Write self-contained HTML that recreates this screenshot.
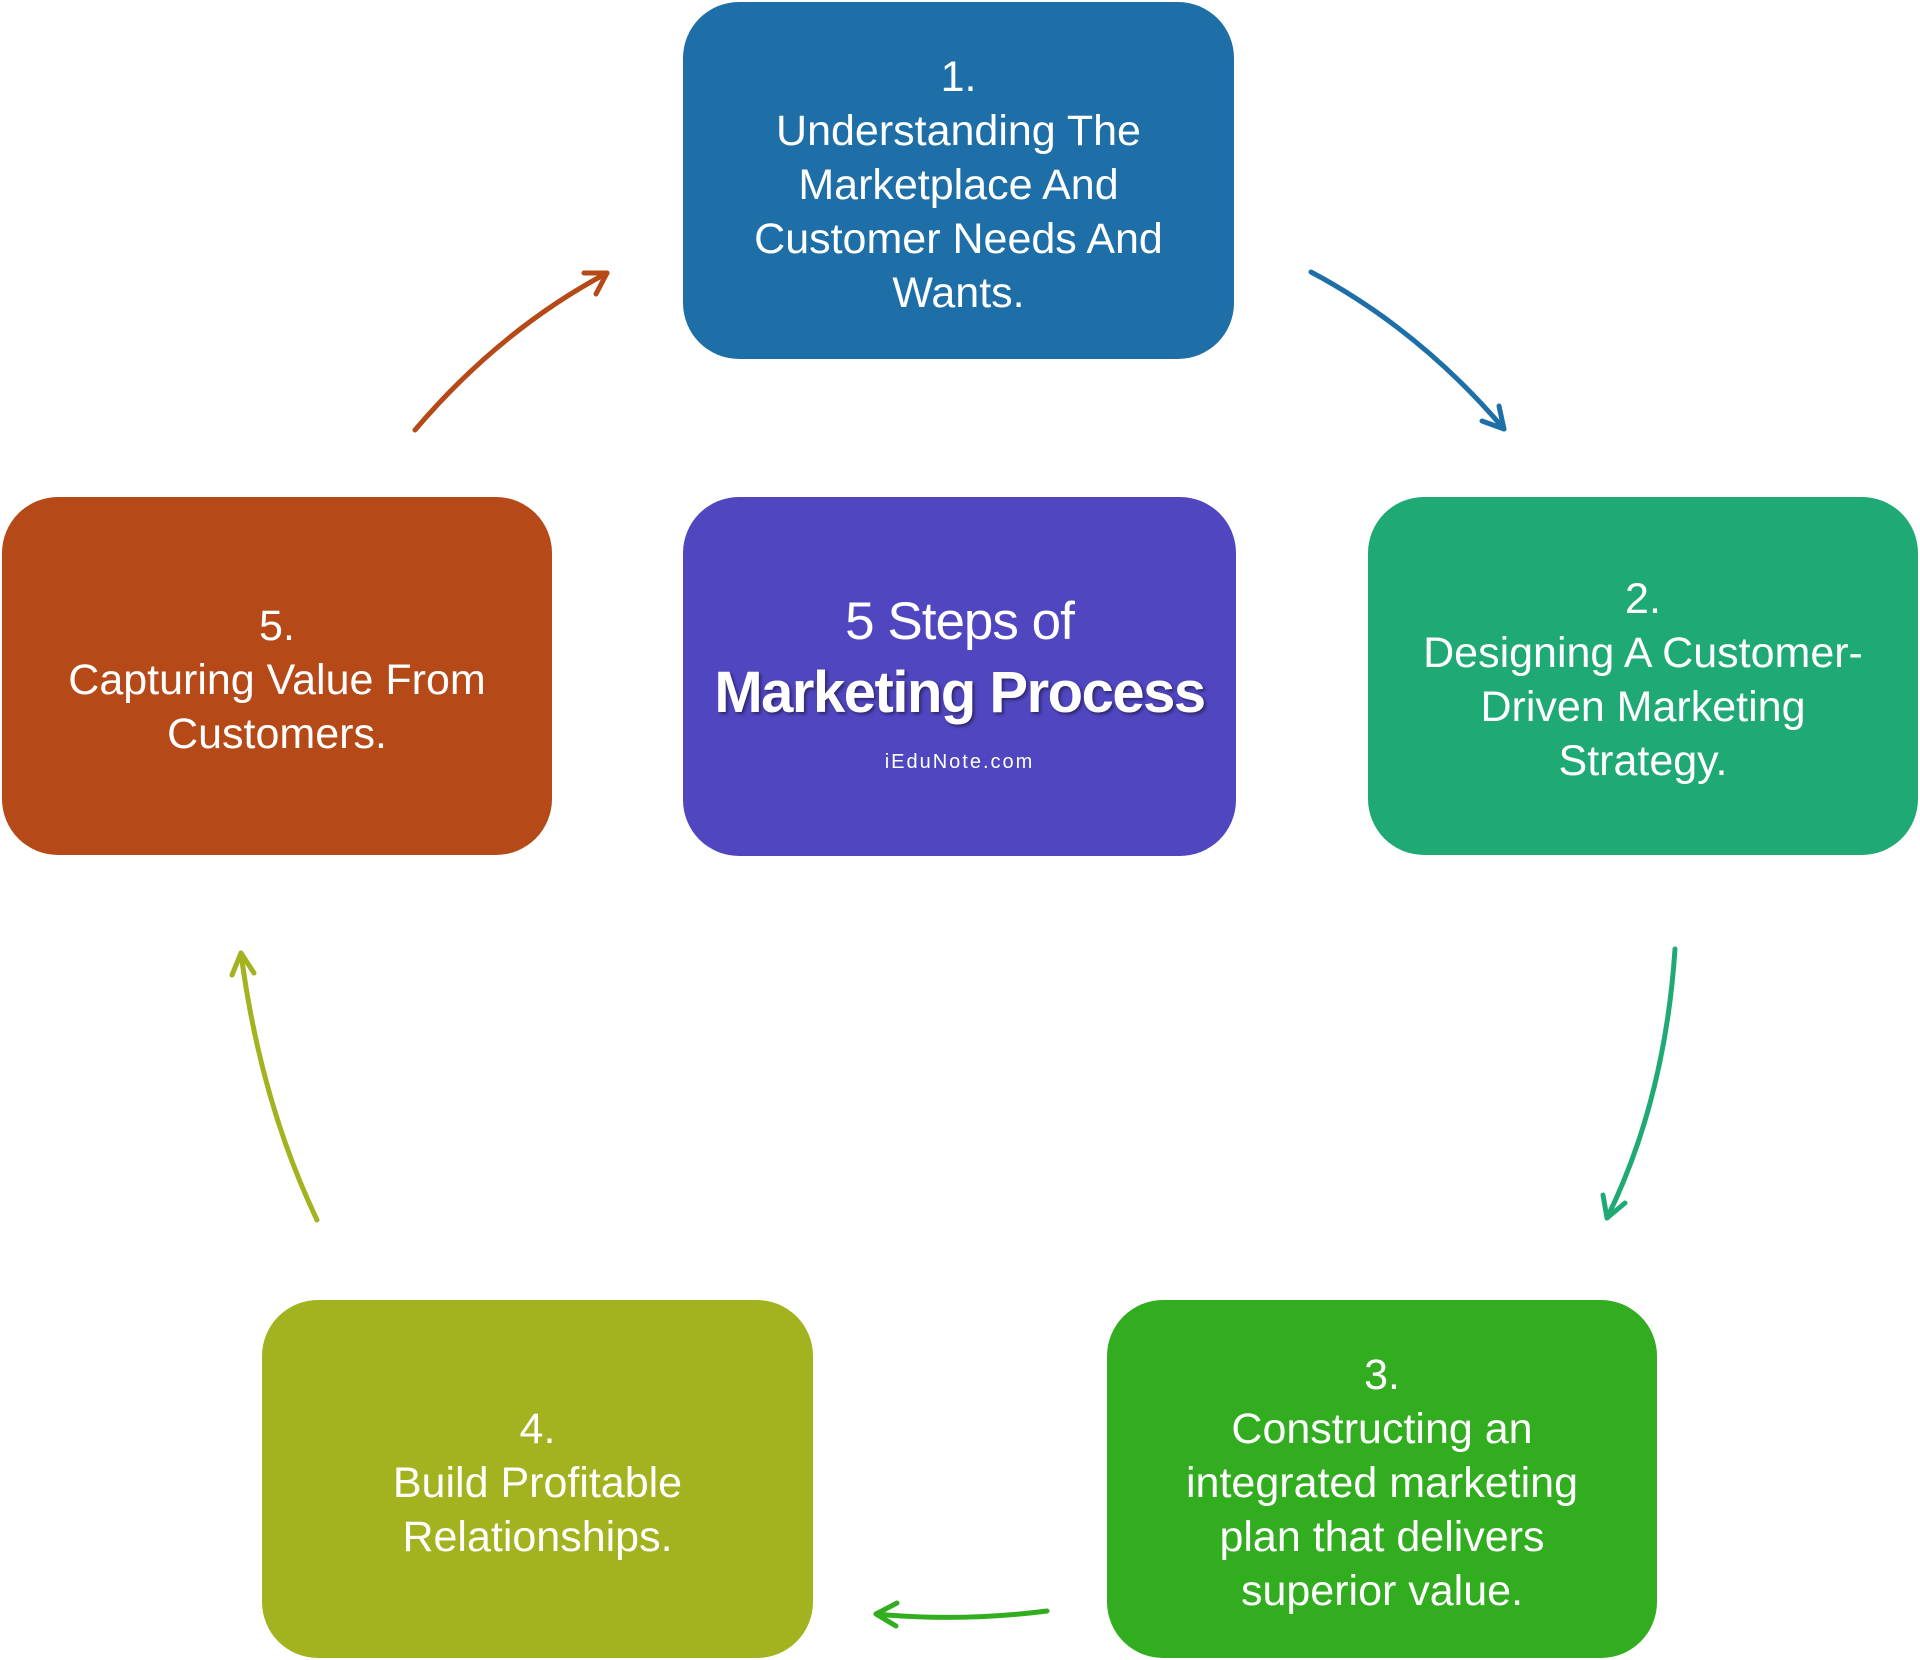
<!DOCTYPE html>
<html><head><meta charset="utf-8"><style>
html,body{margin:0;padding:0;background:#fff;width:1920px;height:1660px;overflow:hidden;position:relative;font-family:"Liberation Sans",sans-serif}
.b{position:absolute;border-radius:56px;color:#fff;display:flex;align-items:center;justify-content:center;text-align:center;font-size:43px;line-height:54px;box-sizing:border-box;padding-top:8px}
svg{position:absolute;left:0;top:0}
</style></head><body>
<div class="b" style="left:683px;top:2px;width:551px;height:357px;background:#1e6fa8">1.<br>Understanding The<br>Marketplace And<br>Customer Needs And<br>Wants.</div>
<div class="b" style="left:2px;top:497px;width:550px;height:358px;background:#b54a18">5.<br>Capturing Value From<br>Customers.</div>
<div class="b" style="left:683px;top:497px;width:553px;height:359px;background:#5046c0;display:block;padding:0">
<div style="position:absolute;left:0;right:0;top:93px;font-size:53px;line-height:64px;letter-spacing:-1px">5 Steps of</div>
<div style="position:absolute;left:0;right:0;top:164px;font-size:58px;line-height:64px;font-weight:bold;letter-spacing:-1.5px;text-shadow:2px 2px 3px rgba(0,0,0,0.45)">Marketing Process</div>
<div style="position:absolute;left:0;right:0;top:253px;font-size:20px;line-height:24px;letter-spacing:2px">iEduNote.com</div>
</div>
<div class="b" style="left:1368px;top:497px;width:550px;height:358px;background:#1faa75">2.<br>Designing A Customer-<br>Driven Marketing<br>Strategy.</div>
<div class="b" style="left:262px;top:1300px;width:551px;height:358px;background:#a3b31f">4.<br>Build Profitable<br>Relationships.</div>
<div class="b" style="left:1107px;top:1300px;width:550px;height:358px;background:#31ad1f">3.<br>Constructing an<br>integrated marketing<br>plan that delivers<br>superior value.</div>
<svg width="1920" height="1660" viewBox="0 0 1920 1660" fill="none" stroke-width="5" stroke-linecap="round" stroke-linejoin="round">
<path d="M1311 272 Q1420 330 1504 429" stroke="#1e6fa8"/><path d="M1482 421 L1504 429 L1499 406" stroke="#1e6fa8"/>
<path d="M1675 949 Q1665 1100 1607 1218" stroke="#1faa75"/><path d="M1603 1195 L1607 1218 L1625 1203" stroke="#1faa75"/>
<path d="M1047 1611 Q960 1622 876 1614" stroke="#31ad1f"/><path d="M897 1603 L876 1614 L896 1626" stroke="#31ad1f"/>
<path d="M317 1220 Q260 1100 241 953" stroke="#a3b31f"/><path d="M232 975 L241 953 L254 973" stroke="#a3b31f"/>
<path d="M415 430 Q500 330 607 273" stroke="#b54a18"/><path d="M584 273 L607 273 L596 294" stroke="#b54a18"/>
</svg>
</body></html>
